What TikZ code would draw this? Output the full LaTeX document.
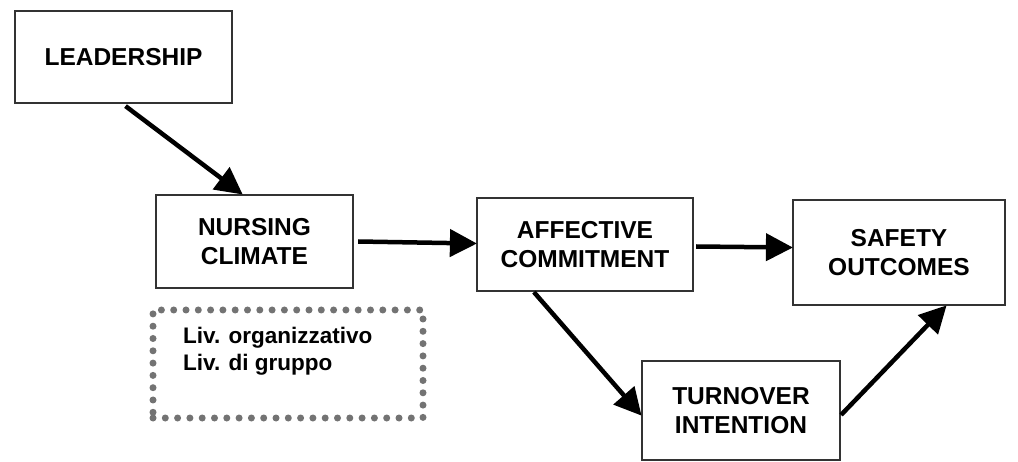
\documentclass[tikz,border=0pt]{standalone}
\usepackage{fontspec}
\setmainfont{Liberation Sans}
\usetikzlibrary{arrows.meta,calc}
\begin{document}
\begin{tikzpicture}[x=1pt,y=-1pt,
  box/.style={draw=black!80,line width=2.2pt,inner sep=0pt,align=center,
    font=\fontsize{24.5}{29}\selectfont\bfseries},
  arr/.style={line width=4.5pt,-{Triangle[length=27pt,width=27pt]},shorten >=-1pt}]
\useasboundingbox (0,0) rectangle (1018,462);
\fill[white] (0,0) rectangle (1018,462);
\node[box,minimum width=217pt,minimum height=92pt] (lead) at (123.5,57) {LEADERSHIP};
\node[box,minimum width=197pt,minimum height=93pt] (nc) at (254.5,241.5) {NURSING\\CLIMATE};
\node[box,minimum width=216pt,minimum height=93pt] (ac) at (585,244.5) {AFFECTIVE\\COMMITMENT};
\node[box,minimum width=212pt,minimum height=105pt] (so) at (899,252.5) {SAFETY\\OUTCOMES};
\node[box,minimum width=198pt,minimum height=99pt] (ti) at (741,410.5) {TURNOVER\\INTENTION};
\node[draw=black!55,line width=7pt,line cap=round,dash pattern=on 0pt off 12.3pt,
  minimum width=270pt,minimum height=108pt,inner sep=0pt] (lv) at (288,364) {};
\node[anchor=west,align=left,inner sep=0pt,font=\fontsize{22.5}{27}\selectfont\bfseries]
  (lvt) at (183,351) {Liv. organizzativo\\Liv. di gruppo};
\coordinate (a1) at ($(nc.north west)+(87,0)$);
\draw[arr] ($(lead.south)+(2,2)$) -- (a1);
\draw[arr] ($(nc.east)+(4,0)$) -- ($(ac.west)+(0,-1)$);
\draw[arr] ($(ac.east)+(2,2)$) -- ($(so.west)+(0,-5)$);
\coordinate (b1) at ($(ac.south west)+(58,0)$);
\coordinate (b2) at ($(ti.north west)+(0,55)$);
\draw[arr] (b1) -- (b2);
\coordinate (c1) at ($(ti.north east)+(0,55)$);
\coordinate (c2) at ($(so.south west)+(154,0)$);
\draw[arr] (c1) -- (c2);
\end{tikzpicture}
\end{document}
